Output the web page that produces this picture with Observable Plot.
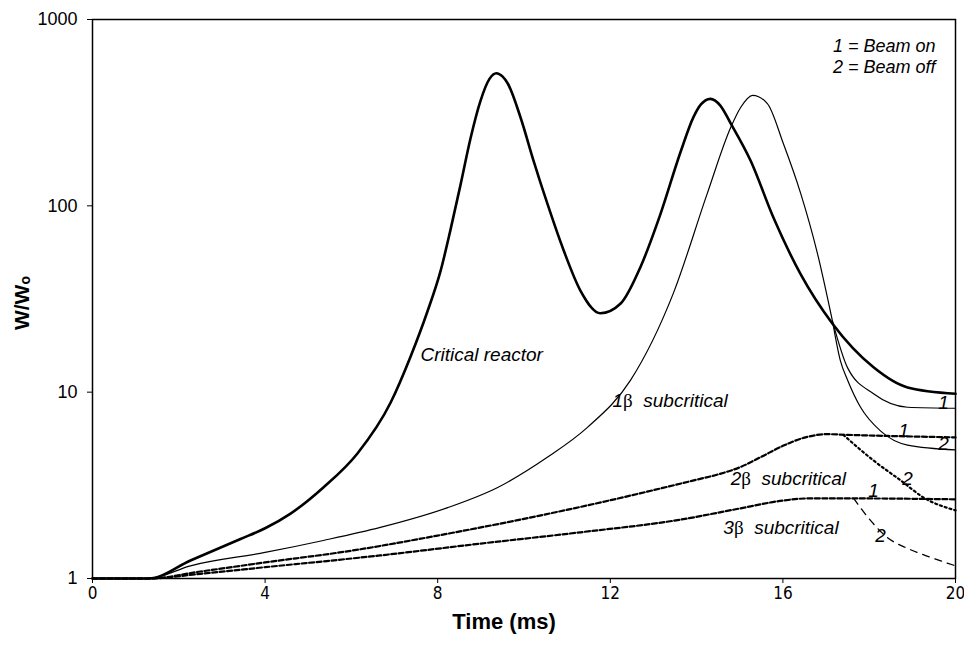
<!DOCTYPE html>
<html>
<head>
<meta charset="utf-8">
<script src="https://cdn.jsdelivr.net/npm/d3@7"></script>
<script src="https://cdn.jsdelivr.net/npm/@observablehq/plot@0.6"></script>
<style>
  body { margin: 0; background: #fff; }
  #chart { width: 964px; height: 646px; }
</style>
</head>
<body>
<div id="chart"></div>
<script>
// ---- Data (time in ms, W/Wo) ----
const xTicks = [0, 4, 8, 12, 16, 20];
const yTicks = [1, 10, 100, 1000];

const critT = [0, 1.3, 2.27, 3.43, 4.0, 4.59, 5.35, 6.14, 6.91, 7.37, 7.76, 8.07, 8.3, 8.53, 8.76, 8.99, 9.2, 9.36, 9.5, 9.62, 9.92, 10.22, 10.54, 10.92, 11.31, 11.77, 12.24, 12.7, 13.16, 13.63, 13.93, 14.1, 14.32, 14.55, 14.79, 15.25, 15.78, 16.41, 17.15, 18.1, 18.89, 20];
const critW = [1, 1, 1.25, 1.63, 1.86, 2.23, 3.08, 4.69, 8.8, 15.5, 27, 45, 75, 130, 230, 365, 480, 515, 495, 455, 298, 175, 103, 57.6, 35, 26.5, 29.9, 47, 90, 195, 300, 350, 375, 345, 277, 175, 86.5, 43, 23.3, 13.6, 10.6, 9.8];

const b1T = [0, 1.3, 2.27, 4.0, 5.35, 6.67, 8.23, 9.39, 10.54, 11.47, 12.47, 13.46, 14.25, 14.79, 15.02, 15.3, 15.64, 16.01, 16.41, 16.8, 17.15];
const b1W = [1, 1, 1.17, 1.38, 1.60, 1.88, 2.40, 3.08, 4.47, 6.47, 11.6, 33.9, 117, 263, 337, 392, 354, 216, 117, 55.6, 24];
const b1OnT = [17.15, 17.5, 18.1, 18.89, 20];
const b1OnW = [24, 13.5, 9.8, 8.3, 8.2];
const b1OffT = [17.15, 17.33, 17.5, 17.8, 18.26, 18.89, 20];
const b1OffW = [24, 14.8, 11.6, 8.3, 6.2, 5.2, 4.9];

const b2T = [0, 1.3, 2.5, 4, 6, 8, 10, 12, 14, 14.5, 15, 15.5, 16, 16.5, 17, 17.5, 20];
const b2W = [1, 1, 1.09, 1.22, 1.41, 1.70, 2.09, 2.63, 3.39, 3.62, 3.95, 4.5, 5.15, 5.7, 5.95, 5.9, 5.72];
const b2OffT = [17.4, 18.1, 18.73, 19.26, 20];
const b2OffW = [5.9, 4.3, 3.36, 2.72, 2.32];

const b3T = [0, 1.3, 2.5, 4, 6.67, 9, 11.31, 13.63, 15.02, 16.0, 16.6, 17.64, 20];
const b3W = [1, 1, 1.06, 1.15, 1.33, 1.54, 1.77, 2.07, 2.38, 2.62, 2.69, 2.69, 2.66];
const b3OffT = [17.64, 18.03, 18.42, 18.89, 19.42, 20];
const b3OffW = [2.69, 2.05, 1.66, 1.45, 1.30, 1.17];

// annotations
const curveLabels = ["Critical reactor", "1\u03B2  subcritical", "2\u03B2  subcritical", "3\u03B2  subcritical"];
const curveLabelT = [7.6, 12.05, 14.79, 14.62];
const curveLabelW = [15.9, 9.0, 3.44, 1.88];
const tagLabels = ["1", "2", "1", "2", "1", "2"];
const tagT = [19.72, 19.72, 18.8, 18.89, 18.1, 18.26];
const tagW = [8.8, 5.3, 6.2, 3.44, 2.97, 1.70];
const legendLines = ["1 = Beam on", "2 = Beam off"];

const rows = (ts, ws) => ts.map((t, i) => ({t, w: ws[i]}));
const narrow = "'Liberation Sans Narrow', 'Arial Narrow', 'DejaVu Sans Condensed', sans-serif";

const chart = Plot.plot({
  width: 964,
  height: 646,
  marginLeft: 92,
  marginRight: 9,
  marginTop: 19,
  marginBottom: 68,
  style: {fontFamily: "'Liberation Sans', Arial, sans-serif", fontSize: "16px", color: "#000", background: "#fff"},
  x: {domain: [0, 20]},
  y: {type: "log", domain: [1, 1000]},
  marks: [
    Plot.axisY({ticks: yTicks, tickFormat: d => String(d), tickSize: 5, tickPadding: 10, fontSize: 18, label: null}),
    Plot.axisX({ticks: xTicks, tickSize: 5, tickPadding: 3, fontSize: 17, fontFamily: narrow, label: null}),
    Plot.line(rows(critT, critW), {x: "t", y: "w", stroke: "#000", strokeWidth: 2.6, curve: "monotone-x"}),
    Plot.line(rows(b1T, b1W), {x: "t", y: "w", stroke: "#000", strokeWidth: 1.2, curve: "monotone-x"}),
    Plot.line(rows(b1OnT, b1OnW), {x: "t", y: "w", stroke: "#000", strokeWidth: 1.2, curve: "monotone-x"}),
    Plot.line(rows(b1OffT, b1OffW), {x: "t", y: "w", stroke: "#000", strokeWidth: 1.2, curve: "monotone-x"}),
    Plot.line(rows(b2T, b2W), {x: "t", y: "w", stroke: "#000", strokeWidth: 2.2, strokeDasharray: "5,2.5", curve: "monotone-x"}),
    Plot.line(rows(b2OffT, b2OffW), {x: "t", y: "w", stroke: "#000", strokeWidth: 2.2, strokeDasharray: "2,3", curve: "monotone-x"}),
    Plot.line(rows(b3T, b3W), {x: "t", y: "w", stroke: "#000", strokeWidth: 2.2, strokeDasharray: "5,2.5", curve: "monotone-x"}),
    Plot.line(rows(b3OffT, b3OffW), {x: "t", y: "w", stroke: "#000", strokeWidth: 1.3, strokeDasharray: "7,6", curve: "monotone-x"}),
    Plot.frame({stroke: "#000", strokeWidth: 1.5}),
    Plot.text(curveLabels, {x: (d, i) => curveLabelT[i], y: (d, i) => curveLabelW[i], text: d => d, textAnchor: "start", fontStyle: "italic", fontSize: 19, fill: "#000"}),
    Plot.text(tagLabels, {x: (d, i) => tagT[i], y: (d, i) => tagW[i], text: d => d, fontStyle: "italic", fontSize: 19, fill: "#000"}),
    Plot.text([legendLines[0]], {frameAnchor: "top-right", dx: -20, dy: 27, text: d => d, textAnchor: "end", lineAnchor: "middle", fontStyle: "italic", fontSize: 18, fill: "#000"}),
    Plot.text([legendLines[1]], {frameAnchor: "top-right", dx: -20, dy: 48, text: d => d, textAnchor: "end", lineAnchor: "middle", fontStyle: "italic", fontSize: 18, fill: "#000"}),
    Plot.text(["W/W\u2092"], {frameAnchor: "left", rotate: -90, dx: -70, dy: 4, textAnchor: "middle", fontWeight: "bold", fontSize: 21, fill: "#000"}),
    Plot.text(["Time (ms)"], {frameAnchor: "bottom", dx: -20, dy: 43, textAnchor: "middle", lineAnchor: "middle", fontWeight: "bold", fontSize: 22, fill: "#000"})
  ]
});

// upright serif beta inside the italic curve labels
d3.select(chart).selectAll("text").each(function () {
  const s = this.textContent;
  if (this.childElementCount === 0 && s.includes("\u03B2")) {
    const parts = s.split("\u03B2");
    this.textContent = "";
    const sel = d3.select(this);
    sel.append("tspan").text(parts[0]);
    sel.append("tspan").attr("font-style", "normal").attr("font-family", "'Liberation Serif', 'DejaVu Serif', serif").text("\u03B2");
    sel.append("tspan").text(parts[1]);
  }
});

document.getElementById("chart").append(chart);
</script>
</body>
</html>
